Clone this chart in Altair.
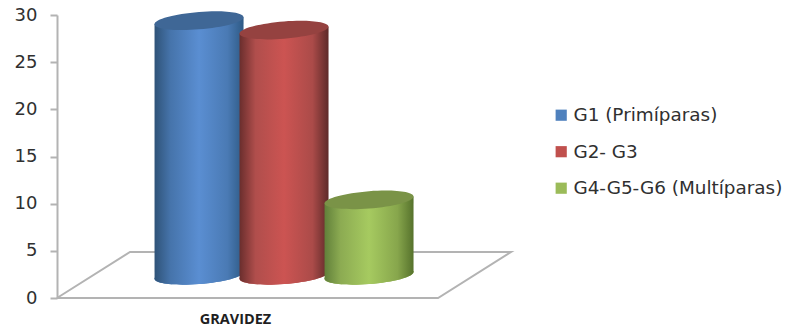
import altair as alt
import pandas as pd

# Series
names = ["G1 (Primíparas)", "G2- G3", "G4-G5-G6 (Multíparas)"]
values = [27, 26, 8]
base_colors = ["#4f81bd", "#c0504d", "#9bbb59"]
top_colors = ["#3f6796", "#954240", "#7a9347"]
side_stops = [
    ["#2f5378", "#4674ab", "#5a8ed2", "#4a7ab4", "#2e5a85"],
    ["#6a2e2d", "#b04e4c", "#cc5452", "#ab4b49", "#5e2a29"],
    ["#61803a", "#8cab52", "#a6ca60", "#87a64c", "#56722c"],
]
y_ticks = [0, 5, 10, 15, 20, 25, 30]

LIFT = 2.4     # height of the cylinder bases above the front edge of the floor
TILT = 0.36    # rise of the rim from its centre to its right end
HALF = 0.5235  # half a cylinder width, in category units
X_DOM = [-1.671, 6.929]
Y_SCALE = alt.Scale(domain=[0, 30], range=[298, 15], nice=False)
X_SCALE = alt.Scale(domain=X_DOM, range=[0, 731], nice=False)

X_AXIS = alt.Axis(
    title="GRAVIDEZ", domain=False, ticks=False, labels=False, grid=False,
    titleX=178, titleY=14, titleFontSize=14.5, titleFontWeight="bold",
    titleFont="Open Sans", titleColor="#1f1f1f", titleAlign="center",
)
Y_AXIS = alt.Axis(
    title=None, values=y_ticks, grid=False, domainColor="#b3b3b3", domainWidth=2,
    tickColor="#b3b3b3", tickWidth=2, tickSize=7, labelPadding=13,
    labelFontSize=18, labelFont="DejaVu Sans", labelColor="#303030",
)


def ellipse_path(rx=1.0, ry=0.195, tilt=-0.078):
    """Tilted ellipse as cubic segments; y is sheared with x to follow the rim."""
    k = 0.5523
    pts = [(-rx, 0), (-rx, -k * ry), (-k * rx, -ry), (0, -ry), (k * rx, -ry),
           (rx, -k * ry), (rx, 0), (rx, k * ry), (k * rx, ry), (0, ry),
           (-k * rx, ry), (-rx, k * ry), (-rx, 0)]
    pts = [(x, y + tilt * x) for x, y in pts]
    fmt = lambda p: f"{p[0]:.4f},{p[1]:.4f}"
    d = "M" + fmt(pts[0])
    for i in range(1, len(pts), 3):
        d += " C" + " ".join(fmt(p) for p in pts[i:i + 3])
    return d + " Z"


RIM = ellipse_path()
RIM_SIZE = 89 ** 2


def gradient(stops):
    offsets = [0, 0.18, 0.5, 0.82, 1]
    return alt.Gradient(
        gradient="linear", x1=0, x2=1, y1=0, y2=0,
        stops=[alt.GradientStop(color=c, offset=o) for c, o in zip(stops, offsets)],
    )


x_enc = alt.X("x:Q", scale=X_SCALE, axis=X_AXIS)


def y_enc(field):
    return alt.Y(field, scale=Y_SCALE, axis=Y_AXIS)


# Floor of the 3-D box
floor = pd.DataFrame({
    "x": [-1.671, 2.812, 3.671, -0.812, -1.671],
    "y": [0, 0, 4.88, 4.88, 0],
    "o": range(5),
})
layers = [
    alt.Chart(floor).mark_line(color="#b3b3b3", strokeWidth=2).encode(
        x=x_enc, y=y_enc("y:Q"), order="o:Q",
    )
]

for i, (name, value) in enumerate(zip(names, values)):
    rim = pd.DataFrame({"x": [i], "top": [value + LIFT], "base": [LIFT], "serie": [name]})
    side = pd.DataFrame({
        "x": [i - HALF, i + HALF],
        "top": [value + LIFT - TILT, value + LIFT + TILT],
        "base": [LIFT - TILT, LIFT + TILT],
    })

    # Solid base ellipse carries the legend colour, the shaded one sits over it
    layers.append(
        alt.Chart(rim).mark_point(shape=RIM, size=RIM_SIZE, filled=True, opacity=1, strokeWidth=0).encode(
            x=x_enc,
            y=y_enc("base:Q"),
            color=alt.Color("serie:N", scale=alt.Scale(domain=names, range=base_colors), legend=alt.Legend(
                title=None, orient="none", legendX=495, legendY=106, symbolType="square",
                symbolSize=125, symbolStrokeWidth=0, symbolOpacity=1, labelFontSize=18.4,
                labelFont="DejaVu Sans", labelColor="#303030", rowPadding=17.5, labelOffset=3,
                labelLimit=300, values=names,
            )),
        )
    )
    shade = gradient(side_stops[i])
    layers.append(
        alt.Chart(rim).mark_point(shape=RIM, size=RIM_SIZE, filled=True, opacity=1, strokeWidth=0, fill=shade).encode(
            x=x_enc, y=y_enc("base:Q"),
        )
    )
    layers.append(
        alt.Chart(side).mark_area(fill=shade, line=False).encode(
            x=x_enc, y=y_enc("top:Q"), y2="base:Q",
        )
    )
    layers.append(
        alt.Chart(rim).mark_point(shape=RIM, size=RIM_SIZE, filled=True, opacity=1, strokeWidth=0, fill=top_colors[i]).encode(
            x=x_enc, y=y_enc("top:Q"),
        )
    )

chart = (
    alt.layer(*layers)
    .properties(
        width=731, height=298,
        autosize=alt.AutoSizeParams(type="none"),
        padding={"left": 57, "top": 0, "right": 0, "bottom": 32},
    )
    .configure_view(stroke=None)
)

chart.save("out.html", embed_options={"renderer": "svg", "actions": False})
